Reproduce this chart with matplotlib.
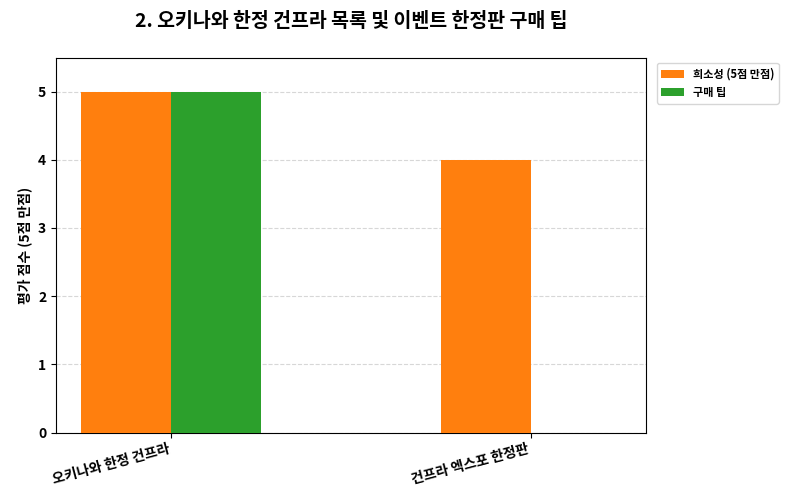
import matplotlib
matplotlib.use("Agg")
import matplotlib.pyplot as plt
import numpy as np

plt.rcParams['font.family'] = ['Noto Sans CJK KR', 'DejaVu Sans']

categories = ["오키나와 한정 건프라", "건프라 엑스포 한정판"]
rarity = [5, 4]
tips = [5, 0]
series_names = ["희소성 (5점 만점)", "구매 팁"]

fig, ax = plt.subplots(figsize=(8, 5), dpi=100)
x = np.arange(len(categories))
w = 0.25
ax.bar(x - w/2, rarity, w, color="#ff7f0e", label=series_names[0], zorder=3)
ax.bar(x + w/2, tips, w, color="#2ca02c", label=series_names[1], zorder=3)
ax.set_xlim(-0.32, 1.32)
ax.set_ylim(0, 5.5)
ax.set_xticks(x)
ax.set_xticklabels(categories, rotation=15, ha="right", fontsize=10, fontweight="bold")
for t in ax.get_yticklabels():
    t.set_fontweight("bold")
ax.tick_params(axis='y', labelsize=10)
ax.set_ylabel("평가 점수 (5점 만점)", fontsize=10, fontweight="bold")
ax.set_title("2. 오키나와 한정 건프라 목록 및 이벤트 한정판 구매 팁", fontsize=14, fontweight="bold", pad=22)
ax.grid(axis='y', linestyle='--', alpha=0.5, zorder=0)
leg = ax.legend(loc="upper left", bbox_to_anchor=(1.01, 1.0), fontsize=8, prop={'weight': 'bold', 'size': 8})
fig.subplots_adjust(left=0.07, right=0.807, top=0.885, bottom=0.135)
fig.savefig("out.png", dpi=100)
